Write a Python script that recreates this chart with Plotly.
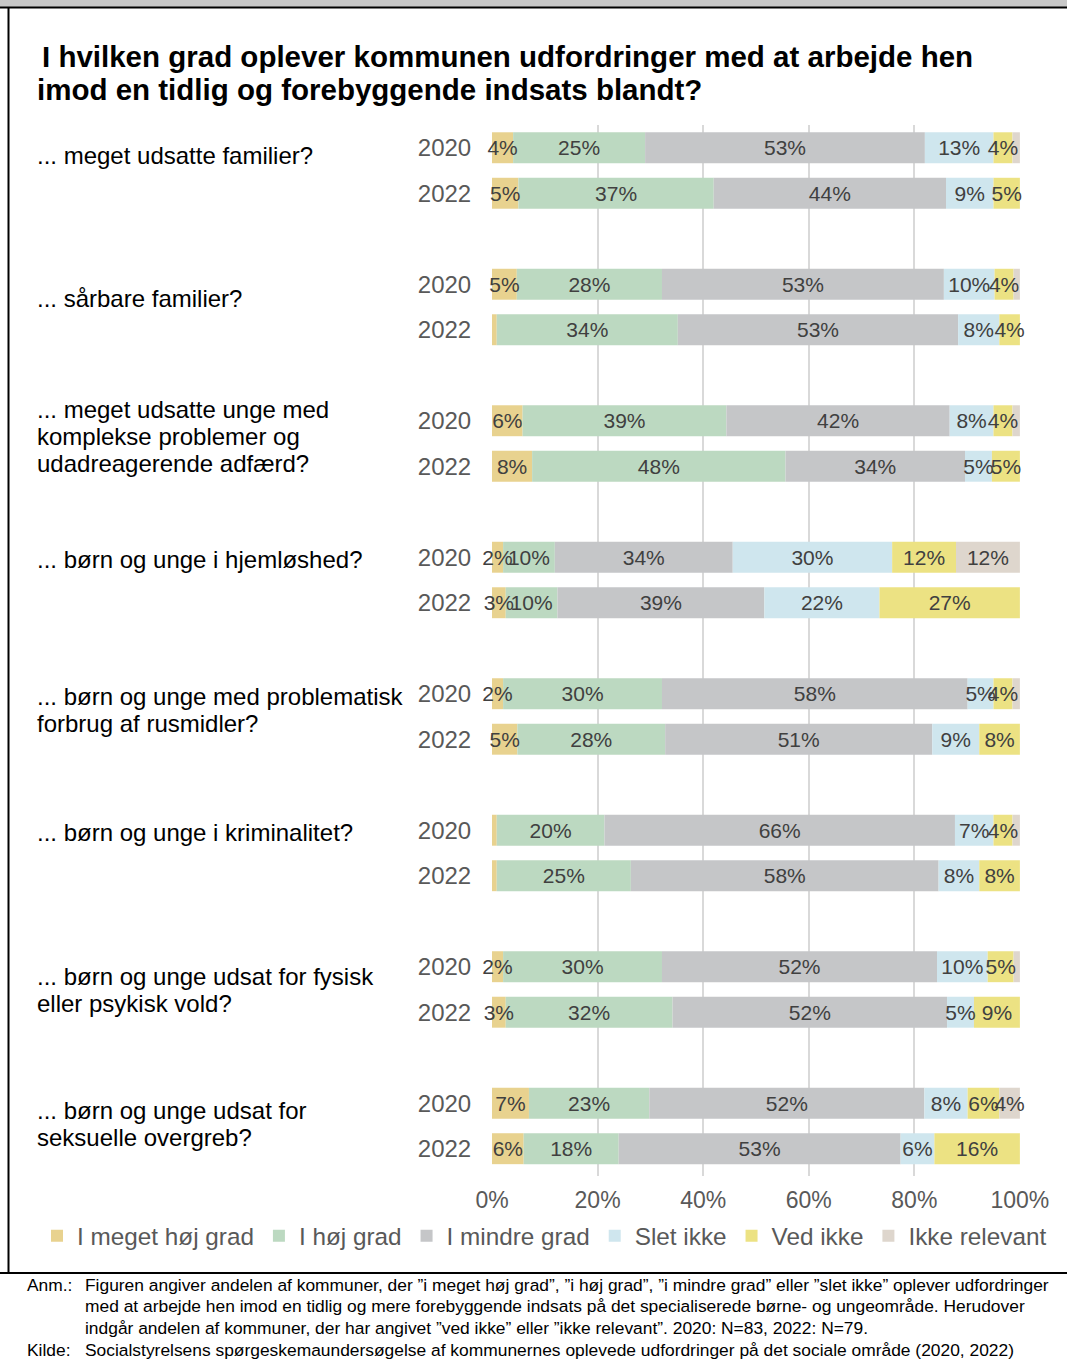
import plotly.graph_objects as go

# ---------------- data ----------------
questions = [
    ["... meget udsatte familier?"],
    ["... sårbare familier?"],
    ["... meget udsatte unge med", "komplekse problemer og", "udadreagerende adfærd?"],
    ["... børn og unge i hjemløshed?"],
    ["... børn og unge med problematisk", "forbrug af rusmidler?"],
    ["... børn og unge i kriminalitet?"],
    ["... børn og unge udsat for fysisk", "eller psykisk vold?"],
    ["... børn og unge udsat for", "seksuelle overgreb?"],
]
years = ["2020", "2022"]
series_names = ["I meget høj grad", "I høj grad", "I mindre grad", "Slet ikke", "Ved ikke", "Ikke relevant"]

# values per question: [2020 row, 2022 row]
meget_hoej = [[4.0, 5.0], [4.7, 0.9], [5.8, 7.6], [2.1, 2.6], [2.1, 4.8], [0.9, 0.9], [2.1, 2.6], [7.0, 6.0]]
hoej       = [[25.0, 37.0], [27.5, 34.3], [38.6, 48.0], [9.8, 9.8], [30.1, 28.0], [20.4, 25.4], [30.1, 31.6], [22.8, 18.0]]
mindre     = [[53.0, 44.0], [53.4, 53.1], [42.3, 34.0], [33.7, 39.2], [57.9, 50.6], [66.4, 58.3], [52.1, 52.0], [52.1, 53.4]]
slet_ikke  = [[13.0, 9.0], [9.6, 7.8], [8.3, 5.1], [30.2, 21.8], [4.9, 8.9], [7.3, 7.7], [9.6, 5.1], [8.2, 6.4]]
ved_ikke   = [[3.6, 5.0], [3.6, 3.9], [3.6, 5.3], [12.1, 26.6], [3.6, 7.7], [3.6, 7.7], [4.9, 8.7], [6.0, 16.2]]
ikke_rel   = [[1.4, 0.0], [1.2, 0.0], [1.4, 0.0], [12.1, 0.0], [1.4, 0.0], [1.4, 0.0], [1.2, 0.0], [3.9, 0.0]]

x_ticks = [0, 20, 40, 60, 80, 100]
x_ticktext = ["0%", "20%", "40%", "60%", "80%", "100%"]

title_lines = [
    "I hvilken grad oplever kommunen udfordringer med at arbejde hen",
    "imod en tidlig og forebyggende indsats blandt?",
]
note_lines = [
    ("Anm.:", "Figuren angiver andelen af kommuner, der \u201di meget høj grad\u201d, \u201di høj grad\u201d, \u201di mindre grad\u201d eller \u201dslet ikke\u201d oplever udfordringer"),
    ("", "med at arbejde hen imod en tidlig og mere forebyggende indsats på det specialiserede børne- og ungeområde. Herudover"),
    ("", "indgår andelen af kommuner, der har angivet \u201dved ikke\u201d eller \u201dikke relevant\u201d. 2020: N=83, 2022: N=79."),
    ("Kilde:", "Socialstyrelsens spørgeskemaundersøgelse af kommunernes oplevede udfordringer på det sociale område (2020, 2022)"),
]

# ---------------- style ----------------
colors = ["#e8d28f", "#bcd9c1", "#c5c6c8", "#cfe6ee", "#ece283", "#ded6cd"]
label_center_px = [8, 14, 16, 2, 16, 2, 23, 21]  # question text centre, px below the 2020 bar
W, H = 1067, 1359
L, R, T, B = 492, 1020, 125, 1176  # plot area in px
Y_RANGE = [22.6, -0.5]
PX_PER_UNIT = (B - T) / (Y_RANGE[0] - Y_RANGE[1])

all_series = [meget_hoej, hoej, mindre, slet_ikke, ved_ikke, ikke_rel]
nq, ny = len(questions), len(years)

ypos, ytext = [], []
for qi in range(nq):
    for yi, yr in enumerate(years):
        ypos.append(qi * 3 + yi)
        ytext.append(yr)

rows = [[ser[qi][yi] for qi in range(nq) for yi in range(ny)] for ser in all_series]
bases = []
running = [0.0] * len(ypos)
for r in rows:
    bases.append(list(running))
    running = [a + b for a, b in zip(running, r)]

fig = go.Figure()
# filled segments
for name, col, vals, base in zip(series_names, colors, rows, bases):
    fig.add_trace(go.Bar(
        name=name, x=vals, y=ypos, base=base, orientation="h",
        marker=dict(color=col, line=dict(width=0)), width=0.68,
        hoverinfo="skip", showlegend=True,
    ))
# labels on top of all segments
for name, vals, base in zip(series_names, rows, bases):
    txt = [f"{round(v)}%" if v >= 1.5 else "" for v in vals]
    fig.add_trace(go.Bar(
        name=name, x=vals, y=ypos, base=base, orientation="h",
        marker=dict(color="rgba(0,0,0,0)", line=dict(width=0)), width=0.68,
        text=txt, textposition="inside", insidetextanchor="middle",
        textangle=0, constraintext="none", cliponaxis=False,
        textfont=dict(family="Liberation Sans", size=21, color="#404040"),
        hoverinfo="skip", showlegend=False,
    ))


def px_x(px):
    return (px - L) / (R - L)


def px_y(py):
    return 1 - (py - T) / (B - T)


annotations = []
for qi, lines in enumerate(questions):
    n = len(lines)
    for k, line in enumerate(lines):
        off_px = label_center_px[qi] + (k - (n - 1) / 2) * 27
        annotations.append(dict(
            text=line, xref="paper", yref="y", x=px_x(35), y=qi * 3 + off_px / PX_PER_UNIT,
            xanchor="left", yanchor="middle", align="left", showarrow=False,
            font=dict(family="Liberation Sans", size=24, color="#000000"),
        ))

for k, line in enumerate(title_lines):
    annotations.append(dict(
        text=line, xref="paper", yref="paper", x=px_x(40 - 5 * k), y=px_y(56 + 33 * k),
        xanchor="left", yanchor="middle", align="left", showarrow=False,
        font=dict(family="Liberation Sans", size=29.5, color="#000000", weight="bold"),
    ))

note_font = dict(family="Liberation Sans", size=17.4, color="#000000")
for k, (lab, line) in enumerate(note_lines):
    yy = px_y(1284.5 + 21.7 * k)
    if lab:
        annotations.append(dict(
            text=lab, xref="paper", yref="paper", x=px_x(25), y=yy,
            xanchor="left", yanchor="middle", align="left", showarrow=False, font=note_font))
    annotations.append(dict(
        text=line, xref="paper", yref="paper", x=px_x(83), y=yy,
        xanchor="left", yanchor="middle", align="left", showarrow=False, font=note_font))

shapes = [
    dict(type="rect", xref="paper", yref="paper", x0=px_x(0), x1=px_x(W), y0=px_y(0), y1=px_y(7),
         fillcolor="#c8c8c8", line=dict(width=0), layer="below"),
    dict(type="line", xref="paper", yref="paper", x0=px_x(0), x1=px_x(W), y0=px_y(7.5), y1=px_y(7.5),
         line=dict(color="#000000", width=2)),
    dict(type="line", xref="paper", yref="paper", x0=px_x(8.5), x1=px_x(8.5), y0=px_y(7), y1=px_y(1273),
         line=dict(color="#000000", width=2)),
    dict(type="line", xref="paper", yref="paper", x0=px_x(0), x1=px_x(W), y0=px_y(1273), y1=px_y(1273),
         line=dict(color="#000000", width=2)),
]

fig.update_layout(
    width=W, height=H,
    margin=dict(l=L, r=W - R, t=T, b=H - B, pad=0),
    barmode="overlay",
    paper_bgcolor="#ffffff", plot_bgcolor="#ffffff",
    showlegend=True,
    legend=dict(
        orientation="h", x=px_x(37), y=px_y(1236), xanchor="left", yanchor="middle",
        font=dict(family="Liberation Sans", size=24.3, color="#595959"),
        itemwidth=30, traceorder="normal", tracegroupgap=0,
        bgcolor="rgba(0,0,0,0)",
    ),
    xaxis=dict(
        range=[0, 100.02], tickvals=x_ticks, ticktext=x_ticktext,
        showgrid=True, gridcolor="#d9d9d9", gridwidth=2, zeroline=False,
        showline=False, ticks="outside", ticklen=3, tickcolor="rgba(0,0,0,0)",
        tickfont=dict(family="Liberation Sans", size=23, color="#595959"),
        fixedrange=True,
    ),
    yaxis=dict(
        range=Y_RANGE, tickvals=ypos, ticktext=ytext,
        showgrid=False, zeroline=False, showline=False,
        ticks="outside", ticklen=15, tickcolor="rgba(0,0,0,0)",
        tickfont=dict(family="Liberation Sans", size=24, color="#595959"),
        fixedrange=True,
    ),
    uniformtext=dict(minsize=21, mode="show"),
    annotations=annotations,
    shapes=shapes,
)

fig.write_html("out.html", post_script="document.body.style.margin='0';", config={"displayModeBar": False})
